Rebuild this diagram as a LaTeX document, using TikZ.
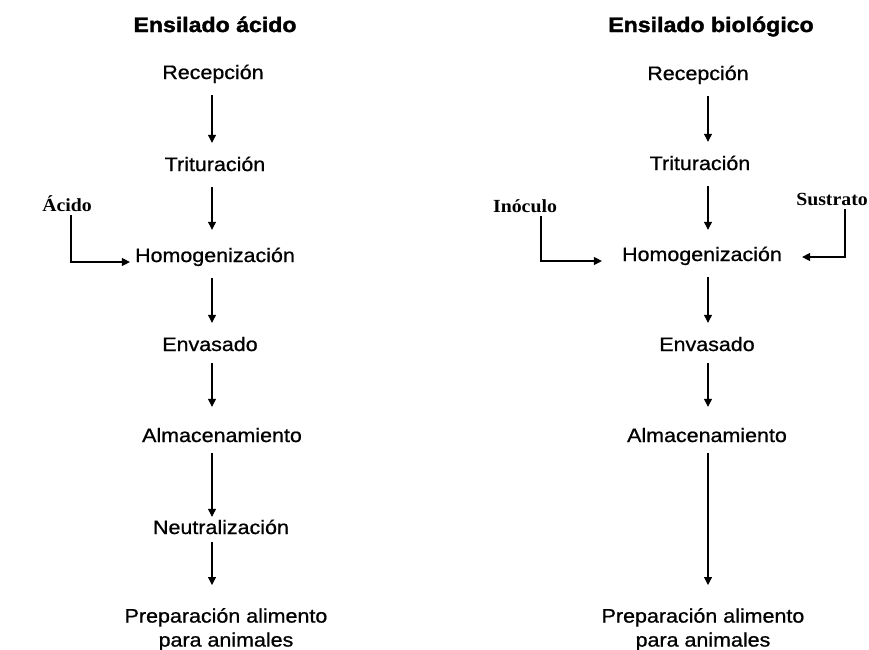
\documentclass[tikz,border=0pt]{standalone}
\usepackage{fontspec}
\usetikzlibrary{arrows.meta}
\newfontfamily\bodyf[FakeStretch=1.1,FakeBold=0.8]{Liberation Sans}
\newfontfamily\titlef[FakeStretch=1.1,BoldFeatures={FakeBold=1.6}]{Liberation Sans}
\newfontfamily\labf[FakeStretch=1.07]{Liberation Serif}
\begin{document}
\begin{tikzpicture}[x=1pt,y=-1pt,
  ttl/.style={font=\titlef\bfseries\fontsize{21}{24}\selectfont, inner sep=0pt, anchor=base},
  stp/.style={font=\bodyf\fontsize{19.5}{24}\selectfont, inner xsep=5pt, inner ysep=14pt,
    text height=14pt, text depth=2pt, anchor=base},
  prp/.style={font=\bodyf\fontsize{19.5}{24}\selectfont, inner xsep=5pt, inner ysep=0pt,
    align=center, anchor=north},
  lab/.style={font=\labf\bfseries\fontsize{18.5}{22}\selectfont, inner xsep=0pt, inner ysep=4pt,
    text depth=0pt, anchor=base},
  arr/.style={-{Triangle[length=8pt,width=8pt]}, line width=1.1pt}]
\useasboundingbox (0,0) rectangle (869,649);
\fill[white] (0,0) rectangle (869,649);
% columns
\coordinate (cL) at (212,0);
\coordinate (cR) at (708,0);
% titles
\node[ttl] (tL) at (215,32) {Ensilado ácido};
\node[ttl] (tR) at (711,32) {Ensilado biológico};
% left column
\node[stp] (recL) at (213,79) {Recepción};
\node[stp] (triL) at (215,171) {Trituración};
\node[stp] (homL) at (215,262) {Homogenización};
\node[stp] (envL) at (210,351) {Envasado};
\node[stp] (almL) at (222,442) {Almacenamiento};
\node[stp] (neuL) at (221,534) {Neutralización};
\node[prp] (prepL) at (226,608) {Preparación alimento\\para animales};
% right column
\node[stp] (recR) at (698,80) {Recepción};
\node[stp] (triR) at (700,170) {Trituración};
\node[stp] (homR) at (702,261) {Homogenización};
\node[stp] (envR) at (707,351) {Envasado};
\node[stp] (almR) at (707,442) {Almacenamiento};
\node[prp] (prepR) at (703,608) {Preparación alimento\\para animales};
% side inputs
\node[lab] (acido) at (67,211) {Ácido};
\node[lab] (ino) at (525,212) {Inóculo};
\node[lab] (sus) at (832,205) {Sustrato};
\coordinate (vA) at (71,0);
\coordinate (vI) at (541,0);
\coordinate (vS) at (845,0);
% left arrows
\draw[arr] (recL.south -| cL) -- (triL.north -| cL);
\draw[arr, shorten >=4pt] (triL.south -| cL) -- (homL.north -| cL);
\draw[arr] (homL.south -| cL) -- (envL.north -| cL);
\draw[arr, shorten <=-4pt, shorten >=7pt] (envL.south -| cL) -- (almL.north -| cL);
\draw[arr, shorten <=-5pt, shorten >=-11pt] (almL.south -| cL) -- (neuL.north -| cL);
\draw[arr, shorten <=-8pt, shorten >=23pt] (neuL.south -| cL) -- (prepL.north -| cL);
% right arrows
\draw[arr] (recR.south -| cR) -- (triR.north -| cR);
\draw[arr, shorten >=3pt] (triR.south -| cR) -- (homR.north -| cR);
\draw[arr] (homR.south -| cR) -- (envR.north -| cR);
\draw[arr, shorten <=-4pt, shorten >=7pt] (envR.south -| cR) -- (almR.north -| cR);
\draw[arr, shorten <=-5pt, shorten >=23pt] (almR.south -| cR) -- (prepR.north -| cR);
% side connectors
\draw[arr] (acido.south -| vA) |- (homL.base west);
\draw[arr, shorten >=15pt] (ino.south -| vI) |- (homR.base west);
\draw[arr, shorten >=15pt] (sus.south -| vS) |- ([yshift=4pt]homR.base east);
\end{tikzpicture}
\end{document}
